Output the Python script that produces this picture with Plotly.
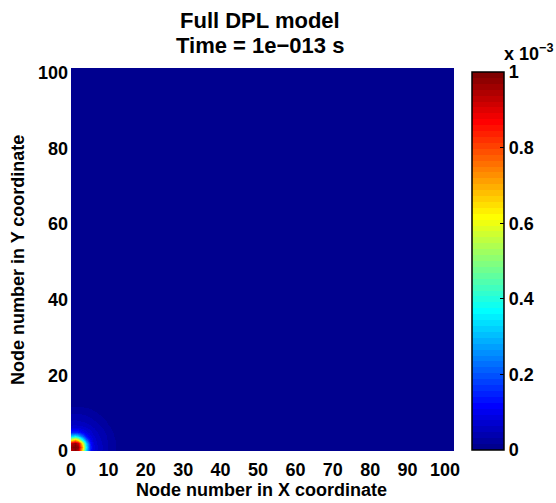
import numpy as np
import plotly.graph_objects as go

# ---------------- data (values in units of 1e-3) ----------------
nx_nodes = list(range(0, 104))   # node numbers in X
ny_nodes = list(range(0, 103))   # node numbers in Y

hot_corner = [
    [0.92, 0.97, 0.92, 0.63, 0.32, 0.14, 0.082, 0.062, 0.049, 0.039, 0.030, 0.022, 0.015],
    [0.97, 1.00, 0.97, 0.72, 0.36, 0.15, 0.085, 0.063, 0.050, 0.040, 0.030, 0.022, 0.015],
    [0.92, 0.97, 0.92, 0.63, 0.32, 0.14, 0.082, 0.062, 0.049, 0.039, 0.030, 0.022, 0.015],
    [0.63, 0.72, 0.63, 0.42, 0.22, 0.11, 0.075, 0.058, 0.046, 0.037, 0.029, 0.021, 0.014],
    [0.32, 0.36, 0.32, 0.22, 0.13, 0.085, 0.067, 0.053, 0.043, 0.035, 0.027, 0.019, 0.012],
    [0.14, 0.15, 0.14, 0.11, 0.085, 0.070, 0.057, 0.047, 0.039, 0.031, 0.024, 0.017, 0.011],
    [0.082, 0.085, 0.082, 0.075, 0.067, 0.057, 0.049, 0.041, 0.034, 0.027, 0.020, 0.014, 0.009],
    [0.062, 0.063, 0.062, 0.058, 0.053, 0.047, 0.041, 0.035, 0.029, 0.022, 0.016, 0.011, 0.007],
    [0.049, 0.050, 0.049, 0.046, 0.043, 0.039, 0.034, 0.029, 0.023, 0.018, 0.012, 0.009, 0.005],
    [0.039, 0.040, 0.039, 0.037, 0.035, 0.031, 0.027, 0.022, 0.018, 0.013, 0.010, 0.006, 0.003],
    [0.030, 0.030, 0.030, 0.029, 0.027, 0.024, 0.020, 0.016, 0.012, 0.010, 0.006, 0.003, 0.001],
    [0.022, 0.022, 0.022, 0.021, 0.019, 0.017, 0.014, 0.011, 0.009, 0.006, 0.003, 0.001, 0.0],
    [0.015, 0.015, 0.015, 0.014, 0.012, 0.011, 0.009, 0.007, 0.005, 0.003, 0.001, 0.0, 0.0],
]

x_ticks = [0, 10, 20, 30, 40, 50, 60, 70, 80, 90, 100]
y_ticks = [0, 20, 40, 60, 80, 100]
cb_ticks = [0, 0.2, 0.4, 0.6, 0.8, 1]
cb_ticktext = ["0", "0.2", "0.4", "0.6", "0.8", "1"]

# remaining field is zero everywhere else
field = np.zeros((len(ny_nodes), len(nx_nodes)))
hc = np.array(hot_corner)
field[:hc.shape[0], :hc.shape[1]] = hc

# ---------------- MATLAB jet(64), stepped ----------------
def jet64():
    m = 64
    n = 16
    u = [k / n for k in range(1, n + 1)] + [1.0] * (n - 1) + [k / n for k in range(n, 0, -1)]
    g = [n // 2 + i for i in range(1, len(u) + 1)]
    r = [gi + n for gi in g]
    b = [gi - n for gi in g]
    R = [0.0] * m; G = [0.0] * m; B = [0.0] * m
    for idx, val in zip(r, u):
        if 1 <= idx <= m: R[idx - 1] = val
    for idx, val in zip(g, u):
        if 1 <= idx <= m: G[idx - 1] = val
    for idx, val in zip(b, u):
        if 1 <= idx <= m: B[idx - 1] = val
    return [(R[i], G[i], B[i]) for i in range(m)]

cols = jet64()
cscale = []
for i, (r, g, b) in enumerate(cols):
    c = f"rgb({round(r*255)},{round(g*255)},{round(b*255)})"
    cscale.append([i / 64, c])
    cscale.append([(i + 1) / 64, c])

FONT = "Liberation Sans, Arial, Helvetica, sans-serif"

W, H = 556, 503
L, R, T, B = 71, 102, 68, 52
pw, ph = W - L - R, H - T - B
def px(xp): return (xp - L) / pw
def py(yp): return (H - B - yp) / ph

CB_LEFT, CB_TOP, CB_LEN, CB_THICK = 472, 72, 378, 32

fig = go.Figure(go.Heatmap(
    x=nx_nodes, y=ny_nodes, z=field,
    zmin=0, zmax=1, zsmooth="best",
    colorscale=cscale,
    colorbar=dict(
        thickness=CB_THICK, thicknessmode="pixels",
        len=CB_LEN, lenmode="pixels",
        x=px(CB_LEFT), xanchor="left", xpad=0,
        y=py(CB_TOP), yanchor="top", ypad=0,
        outlinecolor="black", outlinewidth=1.5,
        tickmode="array", tickvals=cb_ticks, ticktext=cb_ticktext,
        ticks="inside", ticklen=4, tickcolor="black", tickwidth=1,
        tickfont=dict(family=FONT, size=18, color="black", weight="bold"),
    ),
))

fig.update_layout(
    width=W, height=H,
    margin=dict(l=L, r=R, t=T, b=B, pad=0),
    paper_bgcolor="white", plot_bgcolor="white",
    showlegend=False,
    xaxis=dict(range=[0, 102.4], tickmode="array", tickvals=x_ticks,
               ticks="", showgrid=False, zeroline=False, showline=False,
               ticklabelstandoff=6,
               tickfont=dict(family=FONT, size=18, color="black", weight="bold")),
    yaxis=dict(range=[0, 101.3], tickmode="array", tickvals=y_ticks,
               ticks="", showgrid=False, zeroline=False, showline=False,
               ticklabelstandoff=2,
               tickfont=dict(family=FONT, size=18, color="black", weight="bold")),
)

# left-side tick marks of the colorbar (MATLAB draws them on both edges)
for v in cb_ticks[1:-1]:
    yp = CB_TOP + CB_LEN * (1 - v)
    fig.add_shape(type="line", xref="paper", yref="paper",
                  x0=px(CB_LEFT + 1), x1=px(CB_LEFT + 5), y0=py(yp), y1=py(yp),
                  line=dict(color="black", width=1))

ann = [
    dict(text="<b>Full DPL model</b>", x=px(260), y=py(21), size=22),
    dict(text="<b>Time = 1e\u2212013 s</b>", x=px(260), y=py(46), size=22),
    dict(text="<b>Node number in X coordinate</b>", x=px(261), y=py(490), size=18),
]
for a in ann:
    fig.add_annotation(text=a["text"], x=a["x"], y=a["y"], xref="paper", yref="paper",
                       xanchor="center", yanchor="middle", showarrow=False,
                       font=dict(family=FONT, size=a["size"], color="black"))
fig.add_annotation(text="<b>Node number in Y coordinate</b>", x=px(18), y=py(260),
                   xref="paper", yref="paper", xanchor="center", yanchor="middle",
                   textangle=-90, showarrow=False,
                   font=dict(family=FONT, size=18, color="black"))
fig.add_annotation(text="<b>x 10<sup>\u22123</sup></b>", x=px(502), y=py(53),
                   xref="paper", yref="paper", xanchor="left", yanchor="middle",
                   showarrow=False,
                   font=dict(family=FONT, size=18, color="black"))

fig.write_html("out.html", config={"displayModeBar": False},
               post_script="document.body.style.margin='0';")
